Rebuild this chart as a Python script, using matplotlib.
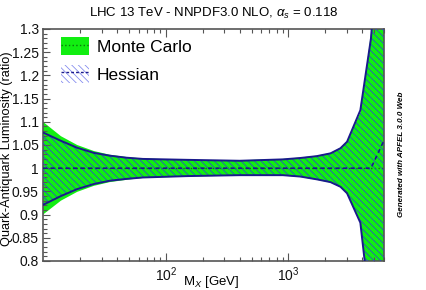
import numpy as np
import matplotlib
matplotlib.use("Agg")
import matplotlib.pyplot as plt
from matplotlib.patches import Patch
from matplotlib.lines import Line2D
from matplotlib.ticker import MultipleLocator, FixedLocator, FixedFormatter, NullFormatter

plt.rcParams['font.family'] = ['Liberation Sans', 'DejaVu Sans']
plt.rcParams['mathtext.fontset'] = 'custom'
plt.rcParams['mathtext.rm'] = 'Liberation Sans'
plt.rcParams['mathtext.it'] = 'Liberation Sans:italic'
plt.rcParams['hatch.linewidth'] = 0.55

# values
mass = [10, 14, 19, 26, 35, 48, 65, 150, 400, 900, 1250, 1700, 2200, 2650, 3000, 3850, 4700, 6000]

mc_up = [1.100, 1.069, 1.050, 1.037, 1.029, 1.024, 1.021, 1.018, 1.017, 1.020, 1.023, 1.027, 1.033, 1.044, 1.058, 1.120, 1.290, 1.80]
mc_lo = [0.900, 0.930, 0.949, 0.962, 0.970, 0.975, 0.979, 0.982, 0.984, 0.984, 0.981, 0.975, 0.969, 0.959, 0.945, 0.885, 0.670, 0.20]
mc_cv = [1.0] * len(mass)

hs_up = [1.077, 1.059, 1.044, 1.033, 1.027, 1.0226, 1.020, 1.018, 1.016, 1.019, 1.022, 1.026, 1.032, 1.043, 1.057, 1.125, 1.280, 1.65]
hs_lo = [0.921, 0.940, 0.955, 0.966, 0.973, 0.977, 0.980, 0.983, 0.985, 0.985, 0.982, 0.976, 0.970, 0.960, 0.946, 0.8825, 0.680, 0.30]
hs_cv = [1.0] * (len(mass) - 1) + [1.06]

green = '#11ee11'
navy = '#1a1a8c'
hatch_col = '#2f44d0'
gray = '#555555'

fig = plt.figure(figsize=(4.27, 2.90), dpi=100)
ax = fig.add_axes([0.1007, 0.1, 0.7986, 0.8])

ax.fill_between(mass, mc_lo, mc_up, facecolor=green, edgecolor='none', zorder=1)
ax.plot(mass, mc_cv, color='#0a7a0a', ls=':', lw=1, zorder=2)
ax.fill_between(mass, hs_lo, hs_up, facecolor='none', edgecolor=hatch_col,
                hatch='\\\\\\\\\\', linewidth=0, zorder=3)
ax.plot(mass, hs_up, color=navy, lw=1.4, zorder=4)
ax.plot(mass, hs_lo, color=navy, lw=1.4, zorder=4)
ax.plot(mass, hs_cv, color=navy, lw=1.2, ls=(0, (2.5, 2)), zorder=4)

ax.set_xscale('log')
ax.set_xlim(10, 6000)
ax.set_ylim(0.8, 1.3)

ax.yaxis.set_major_locator(MultipleLocator(0.05))
ax.yaxis.set_minor_locator(MultipleLocator(0.01))
ax.yaxis.set_major_formatter(plt.FuncFormatter(lambda v, p: '%g' % round(v, 2)))
ax.xaxis.set_major_locator(FixedLocator([100, 1000]))
ax.xaxis.set_major_formatter(FixedFormatter(['$10^2$', '$10^3$']))
ax.xaxis.set_minor_formatter(NullFormatter())

ax.tick_params(which='both', direction='in', top=True, right=False, color=gray,
               labelsize=10, labelcolor='#111111')
ax.tick_params(which='major', length=6, width=0.8)
ax.tick_params(which='minor', length=3, width=0.8)
ax.tick_params(axis='y', which='major', length=5, pad=3)
ax.tick_params(axis='x', pad=3)
for s in ax.spines.values():
    s.set_color(gray)
    s.set_linewidth(1.2)

fig.text(0.5, 0.955, r'LHC 13 TeV - NNPDF3.0 NLO, $\alpha_{s}$ = 0.118',
         ha='center', va='center', fontsize=9.5)
fig.text(0.56, 0.028, r'M$_{X}$ [GeV]', ha='right', va='center', fontsize=9.5)
fig.text(0.016, 0.486, 'Quark-Antiquark Luminosity (ratio)', rotation=90,
         ha='center', va='center', fontsize=9.2)
fig.text(0.941, 0.469, 'Generated with APFEL 3.0.0 Web', rotation=90,
         ha='center', va='center', fontsize=5.8, fontweight='bold', style='italic')

mc_patch = Patch(facecolor=green, edgecolor='none')
mc_line = Line2D([], [], color='#0a7a0a', ls=':', lw=1)
hs_patch = Patch(facecolor='white', edgecolor='#7f86ee', hatch='\\\\\\\\\\', linewidth=0)
hs_line = Line2D([], [], color=navy, ls=(0, (2, 1.5)), lw=1)
ax.legend([(mc_patch, mc_line), (hs_patch, hs_line)], ['Monte Carlo', 'Hessian'],
          loc='upper left', bbox_to_anchor=(18 / 341, 1 - 8 / 232), borderpad=0,
          borderaxespad=0, frameon=False, fontsize=12.5, handlelength=1.6,
          handleheight=1.25, labelspacing=0.55, handletextpad=0.45)

fig.savefig('out.png', dpi=100)
